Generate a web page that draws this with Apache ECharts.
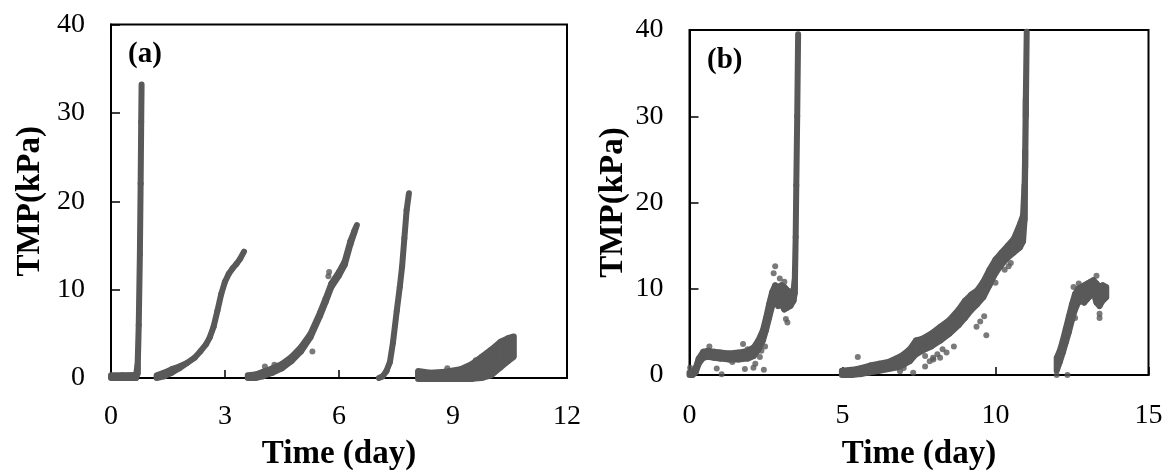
<!DOCTYPE html>
<html>
<head>
<meta charset="utf-8">
<script src="https://cdn.jsdelivr.net/npm/echarts@6/dist/echarts.min.js"></script>
<style>
  html, body { margin: 0; padding: 0; background: #fff; }
  #chart { width: 1172px; height: 476px; }
</style>
</head>
<body>
<div id="chart"></div>
<script>
// Each run is a list of [time (day), lower TMP, upper TMP] readings (kPa).
// Where lower == upper the trace is a single thin band.

// Panel (a)
const aRun1 = [[0, 0, 0.3], [0.3, 0, 0.3], [0.66, 0, 0.35], [0.70, 0.5, 1.5], [0.73, 6, 6],
  [0.76, 14, 14], [0.78, 22, 22], [0.795, 29, 29], [0.805, 33.2, 33.2]];
const aRun2 = [[1.2, 0, 0.3], [1.4, 0.2, 0.6], [1.6, 0.6, 1.0], [1.8, 1.1, 1.3], [2.0, 1.7, 1.7],
  [2.2, 2.3, 2.3], [2.35, 3.0, 3.0], [2.5, 3.8, 3.8], [2.6, 4.6, 4.6], [2.7, 5.8, 5.8],
  [2.8, 7.6, 7.6], [2.9, 9.5, 9.5], [3.0, 10.9, 10.9], [3.1, 11.8, 11.8], [3.2, 12.4, 12.4],
  [3.3, 12.9, 12.9], [3.4, 13.5, 13.5], [3.5, 14.3, 14.3]];
const aRun3 = [[3.6, 0, 0.3], [3.8, 0, 0.4], [4.0, 0.2, 0.7], [4.25, 0.6, 1.1], [4.5, 1.1, 1.6],
  [4.75, 1.9, 2.4], [5.0, 3.0, 3.5], [5.25, 4.6, 5.0], [5.5, 7.0, 7.4], [5.65, 8.6, 9.0],
  [5.8, 10.3, 10.7], [6.0, 11.6, 12.0], [6.15, 12.8, 13.2], [6.3, 15.1, 15.5],
  [6.4, 16.4, 16.6], [6.47, 17.3, 17.3]];
const aRun4 = [[7.05, 0, 0], [7.15, 0.2, 0.2], [7.25, 0.8, 0.8], [7.34, 1.8, 1.8], [7.42, 4, 4],
  [7.52, 7.6, 7.6], [7.6, 10.3, 10.3], [7.66, 12.6, 12.6], [7.72, 15.8, 15.8],
  [7.78, 19, 19], [7.84, 20.9, 20.9]];
const aRun5 = [[8.08, -0.1, 0.8], [8.4, -0.1, 0.6], [8.8, -0.1, 0.7], [9.2, -0.1, 1.0],
  [9.5, -0.1, 1.6], [9.75, 0, 2.4], [10.0, 0.3, 3.2], [10.25, 1.2, 4.1], [10.45, 1.9, 4.5],
  [10.6, 2.4, 4.7]];
const aScatter = [[4.05, 1.3], [4.3, 1.5], [5.3, 3.0], [5.72, 11.5], [5.74, 12.0], [8.85, 1.1],
  [9.6, 2.0], [9.9, 1.2], [10.1, 2.9]];

// Panel (b)
const bRun1 = [[0, 0, 0.3], [0.1, 0, 0.3], [0.2, 0.3, 0.8], [0.3, 1.3, 1.9], [0.45, 2.0, 2.7],
  [0.6, 2.1, 2.8], [0.8, 2.0, 2.7], [1.0, 1.9, 2.6], [1.3, 1.8, 2.5], [1.6, 1.8, 2.6],
  [1.9, 1.9, 2.8], [2.1, 2.2, 3.2], [2.25, 2.9, 4.0], [2.4, 4.0, 5.2], [2.5, 5.2, 6.6],
  [2.6, 6.6, 8.2], [2.7, 8.0, 9.6], [2.8, 8.6, 10.4], [2.9, 8.0, 10.2], [3.0, 8.2, 10.4],
  [3.1, 7.6, 10.2], [3.2, 7.8, 9.8], [3.3, 8.0, 9.6], [3.4, 8.6, 9.8], [3.44, 9.5, 11],
  [3.47, 16, 16], [3.49, 22, 22], [3.52, 30, 30], [3.55, 39.5, 39.5]];
const bRun2 = [[4.98, 0, 0.5], [5.3, 0, 0.6], [5.6, 0.1, 0.8], [5.9, 0.3, 1.1], [6.2, 0.5, 1.3],
  [6.5, 0.7, 1.5], [6.8, 0.9, 2.0], [7.0, 1.2, 2.4], [7.2, 1.6, 3.0], [7.4, 2.4, 4.0],
  [7.6, 2.8, 4.2], [7.9, 3.3, 4.8], [8.2, 4.0, 5.6], [8.5, 4.8, 6.4], [8.8, 5.8, 7.6],
  [9.0, 6.6, 8.6], [9.2, 7.5, 9.3], [9.4, 8.2, 9.8], [9.6, 9.0, 10.8], [9.8, 10.4, 12.2],
  [10.0, 11.8, 13.4], [10.2, 12.8, 14.2], [10.4, 13.6, 15.0], [10.6, 14.2, 15.8],
  [10.8, 14.8, 17.5], [10.9, 15.5, 18.5], [10.95, 18, 22], [10.97, 24, 26],
  [10.99, 30, 32], [11.02, 39.8, 39.8]];
const bRun3 = [[12.0, 0.5, 2.0], [12.1, 1.5, 2.8], [12.2, 2.6, 4.0], [12.3, 3.8, 5.4],
  [12.4, 5.0, 6.8], [12.5, 6.4, 8.2], [12.6, 7.6, 9.4], [12.7, 8.4, 10.0], [12.8, 8.6, 10.2],
  [12.9, 8.4, 10.4], [13.0, 8.8, 10.6], [13.1, 9.2, 10.8], [13.2, 9.6, 11.0],
  [13.3, 8.4, 10.6], [13.4, 8.0, 10.2], [13.5, 8.6, 10.4], [13.62, 9.0, 10.2]];
const bScatter = [
  [0.02, 0.83], [0.05, 0.3], [0.65, 3.3], [0.89, 0.75], [1.05, 0.1], [1.4, 1.5], [1.75, 3.6],
  [1.81, 0.7], [1.9, 3.0], [2.09, 0.83], [2.15, 1.3], [2.3, 2.1], [2.35, 2.8], [2.43, 0.6],
  [2.47, 3.3], [2.75, 11.8], [2.8, 12.6], [2.95, 11.2], [3.1, 10.8], [3.15, 6.5], [3.2, 6.1],
  [5.5, 2.1], [6.88, 0.44], [7.0, 0.8], [7.31, 0.25], [7.7, 1.0], [7.7, 2.2], [7.85, 1.6],
  [7.97, 1.8], [7.96, 2.0], [8.1, 2.4], [8.19, 2.0], [8.27, 3.0], [8.4, 2.6], [8.64, 3.3],
  [9.38, 5.6], [9.5, 6.2], [9.63, 6.8], [9.7, 4.6], [10.0, 10.7], [10.3, 12.2], [10.43, 12.6],
  [10.5, 13.0],
  [12.0, 0.0], [12.35, 0.0], [12.55, 10.2], [12.6, 6.6], [12.72, 10.6], [13.3, 11.5],
  [13.4, 6.6], [13.4, 7.1]];

// Axis ticks
const aXTicks = { min: 0, max: 12, interval: 3 };
const bXTicks = { min: 0, max: 15, interval: 5 };
const yTicks = { min: 0, max: 40, interval: 10 };

const GRAY = '#595959';
const SERIF = '"Liberation Serif", "Times New Roman", serif';

// Draws a run as a chain of filled quads between its lower and upper readings.
function bandSeries(run, axisIdx) {
  return {
    type: 'custom',
    xAxisIndex: axisIdx,
    yAxisIndex: axisIdx,
    data: run,
    encode: { x: 0, y: 1 },
    silent: true,
    renderItem: function (params, api) {
      const i = params.dataIndex;
      if (i >= run.length - 1) return null;
      const p = run[i], q = run[i + 1];
      const pts = [
        api.coord([p[0], p[1]]), api.coord([q[0], q[1]]),
        api.coord([q[0], q[2]]), api.coord([p[0], p[2]])
      ];
      return {
        type: 'polygon',
        shape: { points: pts },
        style: { fill: GRAY, stroke: GRAY, lineWidth: 6, lineJoin: 'round' }
      };
    }
  };
}

function scatterSeries(points, axisIdx) {
  return {
    type: 'scatter',
    xAxisIndex: axisIdx,
    yAxisIndex: axisIdx,
    data: points,
    symbolSize: 6,
    clip: false,
    silent: true,
    itemStyle: { color: GRAY }
  };
}

function xAxis(ticks, gridIndex, nameGap, labelMargin) {
  return {
    type: 'value', gridIndex: gridIndex,
    min: ticks.min, max: ticks.max, interval: ticks.interval,
    name: 'Time (day)', nameLocation: 'middle', nameGap: nameGap,
    nameTextStyle: { fontFamily: SERIF, fontWeight: 'bold', fontSize: 33, color: '#000' },
    axisLine: { show: true, onZero: false, lineStyle: { color: '#000', width: 2 } },
    axisTick: { show: true, inside: true, length: 8, lineStyle: { color: '#000', width: 1.5 } },
    axisLabel: { fontFamily: SERIF, fontSize: 28, color: '#000', margin: labelMargin },
    splitLine: { show: false }
  };
}

function yAxis(gridIndex, nameGap) {
  return {
    type: 'value', gridIndex: gridIndex,
    min: yTicks.min, max: yTicks.max, interval: yTicks.interval,
    name: 'TMP(kPa)', nameLocation: 'middle', nameGap: nameGap,
    nameTextStyle: { fontFamily: SERIF, fontWeight: 'bold', fontSize: 33, color: '#000' },
    axisLine: { show: true, onZero: false, lineStyle: { color: '#000', width: 2 } },
    axisTick: { show: true, inside: true, length: 9, lineStyle: { color: '#000', width: 1.5 } },
    axisLabel: { fontFamily: SERIF, fontSize: 28, color: '#000', margin: 26 },
    splitLine: { show: false }
  };
}

const chart = echarts.init(document.getElementById('chart'), null, { renderer: 'canvas' });
chart.setOption({
  animation: false,
  backgroundColor: '#fff',
  grid: [
    { left: 111, top: 24.5, width: 456, height: 353.5, show: true, borderColor: '#000', borderWidth: 2 },
    { left: 689.5, top: 30, width: 459, height: 345.5, show: true, borderColor: '#000', borderWidth: 2 }
  ],
  xAxis: [xAxis(aXTicks, 0, 60, 25), xAxis(bXTicks, 1, 63, 27)],
  yAxis: [yAxis(0, 64), yAxis(1, 60)],
  graphic: [
    { type: 'text', left: 128, top: 40, style: { text: '(a)', font: 'bold 29px ' + SERIF, fill: '#000' } },
    { type: 'text', left: 707, top: 46, style: { text: '(b)', font: 'bold 29px ' + SERIF, fill: '#000' } }
  ],
  series: [
    bandSeries(aRun1, 0), bandSeries(aRun2, 0), bandSeries(aRun3, 0),
    bandSeries(aRun4, 0), bandSeries(aRun5, 0), scatterSeries(aScatter, 0),
    bandSeries(bRun1, 1), bandSeries(bRun2, 1), bandSeries(bRun3, 1),
    scatterSeries(bScatter, 1)
  ]
});
</script>
</body>
</html>
